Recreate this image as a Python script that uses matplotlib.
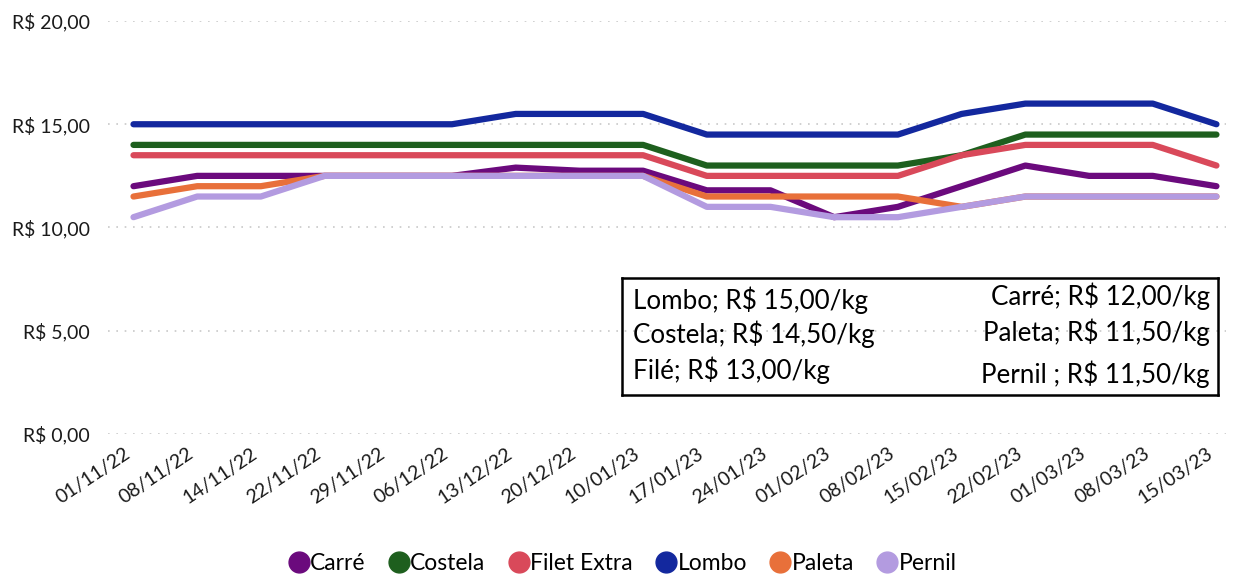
import matplotlib
matplotlib.use("Agg")
import matplotlib.pyplot as plt
import matplotlib.transforms as mtransforms
from matplotlib.lines import Line2D

plt.rcParams['font.family'] = ['Lato', 'DejaVu Sans']

dates = ["01/11/22", "08/11/22", "14/11/22", "22/11/22", "29/11/22", "06/12/22",
         "13/12/22", "20/12/22", "10/01/23", "17/01/23", "24/01/23", "01/02/23",
         "08/02/23", "15/02/23", "22/02/23", "01/03/23", "08/03/23", "15/03/23"]

carre = [12, 12.5, 12.5, 12.5, 12.5, 12.5, 12.9, 12.75, 12.75, 11.8, 11.8, 10.5,
         11, 12, 13, 12.5, 12.5, 12]
costela = [14, 14, 14, 14, 14, 14, 14, 14, 14, 13, 13, 13, 13, 13.5, 14.5, 14.5, 14.5, 14.5]
filet = [13.5, 13.5, 13.5, 13.5, 13.5, 13.5, 13.5, 13.5, 13.5, 12.5, 12.5, 12.5, 12.5,
         13.5, 14, 14, 14, 13]
lombo = [15, 15, 15, 15, 15, 15, 15.5, 15.5, 15.5, 14.5, 14.5, 14.5, 14.5, 15.5,
         16, 16, 16, 15]
paleta = [11.5, 12, 12, 12.5, 12.5, 12.5, 12.5, 12.5, 12.5, 11.5, 11.5, 11.5, 11.5,
          11, 11.5, 11.5, 11.5, 11.5]
pernil = [10.5, 11.5, 11.5, 12.5, 12.5, 12.5, 12.5, 12.5, 12.5, 11, 11, 10.5, 10.5,
          11, 11.5, 11.5, 11.5, 11.5]

series_names = ["Carré", "Costela", "Filet Extra", "Lombo", "Paleta", "Pernil"]
series_vals = [carre, costela, filet, lombo, paleta, pernil]
colors = ["#6b0a7d", "#1e5f1e", "#d9495a", "#13289e", "#e8703a", "#b39be0"]

yticks = [0, 5, 10, 15, 20]
ytick_labels = ["R$ 0,00", "R$ 5,00", "R$ 10,00", "R$ 15,00", "R$ 20,00"]

box_left = ["Lombo; R$ 15,00/kg", "Costela; R$ 14,50/kg", "Filé; R$ 13,00/kg"]
box_right = ["Carré; R$ 12,00/kg", "Paleta; R$ 11,50/kg", "Pernil ; R$ 11,50/kg"]

W, H = 1236, 577
fig = plt.figure(figsize=(W / 100, H / 100), dpi=100)
ax = fig.add_axes([108 / W, 1 - 434 / H, (1226 - 108) / W, (434 - 21) / H])

x = list(range(len(dates)))
for name, vals, c in zip(series_names, series_vals, colors):
    ax.plot(x, vals, color=c, lw=4.5, solid_capstyle='round', solid_joinstyle='round',
            label=name, clip_on=False, zorder=3)

ax.set_ylim(0, 20)
ax.set_xlim(-0.4, 17.15)
ax.set_yticks(yticks)
ax.set_yticklabels(ytick_labels, fontsize=14, color="#1a1a1a")
ax.set_xticks(x)
ax.set_xticklabels(dates, rotation=34, ha='right', rotation_mode='anchor',
                   fontsize=14, color="#1a1a1a")
ax.tick_params(axis='both', length=0)
ax.tick_params(axis='y', pad=13)
ax.tick_params(axis='x', pad=2)
ax.grid(axis='y', color="#c8c8c8", linestyle=(0, (1, 4)), lw=1.2)
for s in ax.spines.values():
    s.set_visible(False)
offset = mtransforms.ScaledTranslation(-10 / 100, -8 / 100, fig.dpi_scale_trans)
for lbl in ax.get_xticklabels():
    lbl.set_transform(lbl.get_transform() + offset)

# text box (transparent, gridline shows through)
bax = fig.add_axes([622 / W, 1 - 395 / H, (1218 - 622) / W, (395 - 278) / H])
bax.patch.set_alpha(0)
bax.set_xticks([])
bax.set_yticks([])
for s in bax.spines.values():
    s.set_color("black")
    s.set_linewidth(1.8)
ys = [300, 334, 370]
ysr = [296, 332, 374]
for t, yp in zip(box_left, ys):
    fig.text(633 / W, 1 - yp / H, t, fontsize=18.7, ha='left', va='center', color="black")
for t, yp in zip(box_right, ysr):
    fig.text(1210 / W, 1 - yp / H, t, fontsize=18.7, ha='right', va='center', color="black")

handles = [Line2D([], [], color=c, marker='o', linestyle='none', markersize=15)
           for c in colors]
fig.legend(handles, series_names, loc='center', bbox_to_anchor=(622 / W, 1 - 564 / H),
           ncol=6, frameon=False, fontsize=16.5, handletextpad=0.0, columnspacing=0.95,
           handlelength=1.0)

fig.savefig("out.png", dpi=100)
